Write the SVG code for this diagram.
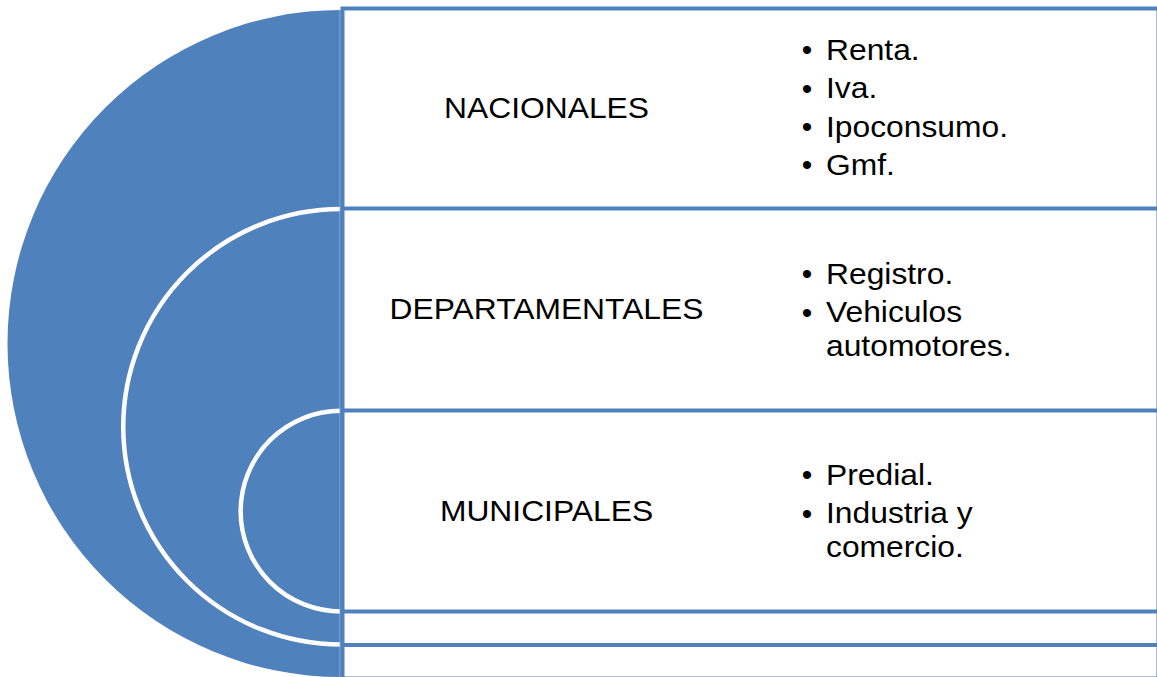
<svg xmlns="http://www.w3.org/2000/svg" width="1157" height="677" viewBox="0 0 1157 677">
  <style>
    .box { fill: #FFFFFF; stroke: #4F81BD; stroke-width: 4; }
    .arc { fill: none; stroke: #FFFFFF; stroke-width: 4.5; }
    .t { font-family: "Liberation Sans", Arial, sans-serif; font-size: 30px; fill: #000000; }
    .title { text-anchor: middle; }
    .bul { text-anchor: middle; }
  </style>
  <rect width="1157" height="677" fill="#FFFFFF"/>
  <g id="target">
    <path d="M 341 10 A 333.5 333.5 0 0 0 341 677 Z" fill="#4F81BD"/>
    <path class="arc" d="M 341 209 A 217.75 217.75 0 0 0 341 644.5"/>
    <path class="arc" d="M 341 410.8 A 100.35 100.35 0 0 0 341 611.5"/>
    <line x1="340" y1="10" x2="340" y2="677" stroke="#95B3D7" stroke-width="1"/>
  </g>
  <g id="node-nacionales">
    <rect class="box" x="342.5" y="8.5" width="816" height="670"/>
    <g transform="translate(546.5 0) scale(1.06 1) translate(-546.5 0)">
      <text class="t title" x="546.5" y="117.7">NACIONALES</text>
    </g>
    <text class="t bul" x="807" y="60.3">•</text>
    <text class="t bul" x="807" y="98.5">•</text>
    <text class="t bul" x="807" y="136.7">•</text>
    <text class="t bul" x="807" y="175">•</text>
    <g transform="translate(826 0) scale(1.06 1) translate(-826 0)">
      <text class="t" x="826" y="60.3">Renta.</text>
      <text class="t" x="826" y="98.5">Iva.</text>
      <text class="t" x="826" y="136.7">Ipoconsumo.</text>
      <text class="t" x="826" y="175">Gmf.</text>
    </g>
  </g>
  <g id="node-departamentales">
    <rect class="box" x="342.5" y="208.5" width="816" height="436.5"/>
    <g transform="translate(546.5 0) scale(1.06 1) translate(-546.5 0)">
      <text class="t title" x="546.5" y="319.5">DEPARTAMENTALES</text>
    </g>
    <text class="t bul" x="807" y="284.3">•</text>
    <text class="t bul" x="807" y="322.5">•</text>
    <g transform="translate(826 0) scale(1.06 1) translate(-826 0)">
      <text class="t" x="826" y="284.3">Registro.</text>
      <text class="t" x="826" y="322.5">Vehiculos</text>
      <text class="t" x="826" y="356">automotores.</text>
    </g>
  </g>
  <g id="node-municipales">
    <rect class="box" x="342.5" y="410.5" width="816" height="201"/>
    <g transform="translate(546.5 0) scale(1.06 1) translate(-546.5 0)">
      <text class="t title" x="546.5" y="521.5">MUNICIPALES</text>
    </g>
    <text class="t bul" x="807" y="485.3">•</text>
    <text class="t bul" x="807" y="523.5">•</text>
    <g transform="translate(826 0) scale(1.06 1) translate(-826 0)">
      <text class="t" x="826" y="485.3">Predial.</text>
      <text class="t" x="826" y="523.5">Industria y</text>
      <text class="t" x="826" y="557">comercio.</text>
    </g>
  </g>
  <g id="connectors"/>
</svg>
